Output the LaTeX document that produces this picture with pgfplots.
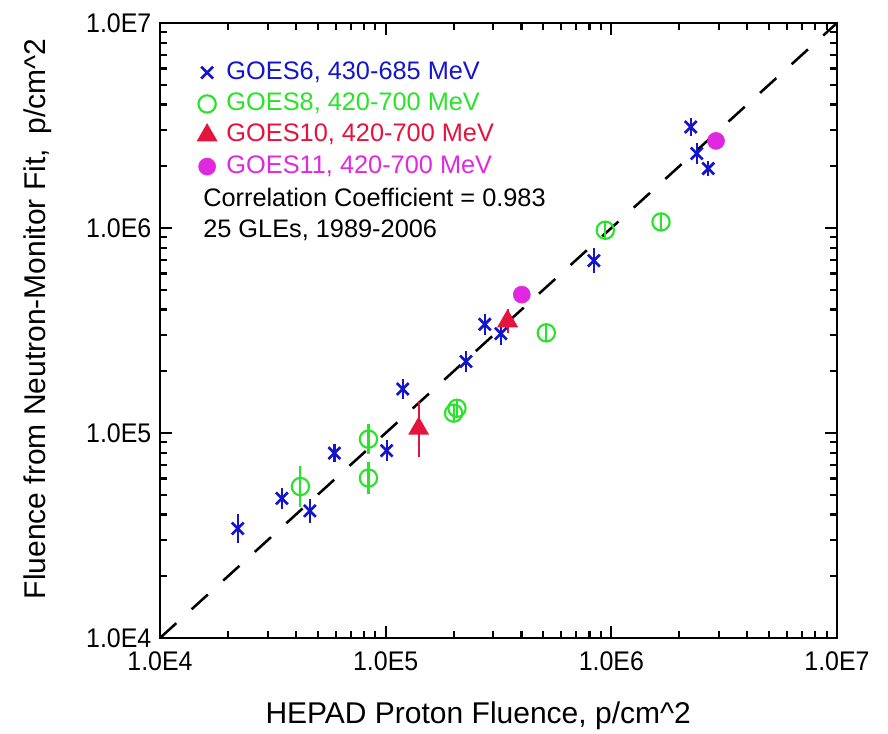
\documentclass[border=0pt]{standalone}
\usepackage{fontspec}
\setmainfont{Liberation Sans}
\usepackage{graphicx}
\usepackage{pgfplots}
\usepackage{pgfplotstable}
\pgfplotsset{compat=1.18}
\definecolor{gblue}{RGB}{20,20,205}
\definecolor{ggreen}{RGB}{40,228,40}
\definecolor{gred}{RGB}{228,20,60}
\definecolor{gmag}{RGB}{225,40,225}
\newcommand{\st}[1]{\scalebox{1}[1.08]{#1}}

\pgfplotstableread{
x y ep em
2.21e4 3.42e4 0.178 0.151
3.47e4 4.80e4 0.122 0.109
4.61e4 4.17e4 0.148 0.129
5.93e4 7.98e4 0.109 0.098
1.01e5 8.20e4 0.122 0.109
1.19e5 1.64e5 0.122 0.109
2.27e5 2.23e5 0.122 0.109
2.75e5 3.39e5 0.122 0.109
3.24e5 3.05e5 0.135 0.119
8.37e5 6.93e5 0.148 0.129
2.25e6 3.11e6 0.109 0.098
2.39e6 2.31e6 0.122 0.109
2.69e6 1.95e6 0.084 0.077
}\goessix

\pgfplotstableread{
x y ep em
4.19e4 5.48e4 0.259 0.206
8.39e4 9.33e4 0.183 0.155
8.39e4 6.03e4 0.194 0.162
2.00e5 1.25e5 0.096 0.088
2.07e5 1.32e5 0.096 0.088
5.15e5 3.08e5 0.096 0.088
9.40e5 9.75e5 0.109 0.098
1.66e6 1.07e6 0.096 0.088
}\goeseight

\pgfplotstableread{
x y ep em
1.40e5 1.05e5 0.349 0.276
3.47e5 3.51e5 0.143 0.125
}\goesten

\pgfplotstableread{
x y
4.01e5 4.73e5
2.91e6 2.66e6
}\goeseleven

\begin{document}
\begin{tikzpicture}
\useasboundingbox (-120pt,-72pt) rectangle (546pt,478.5pt);
\begin{axis}[
  at={(0,0)}, anchor=south west,
  scale only axis, width=507.75pt, height=461.25pt,
  xmode=log, ymode=log,
  xmin=1e4, xmax=1e7, ymin=1e4, ymax=1e7,
  xtick={1e4,1e5,1e6,1e7}, ytick={1e4,1e5,1e6,1e7},
  xticklabels={\st{1.0E4},\st{1.0E5},\st{1.0E6},\st{1.0E7}},
  yticklabels={\st{1.0E4},\st{1.0E5},\st{1.0E6},\st{1.0E7}},
  axis line style={line width=2.2pt},
  major tick length=9pt, minor tick length=5pt,
  every tick/.style={black, line width=1.6pt},
  tick align=inside,
  ticklabel style={font=\fontsize{18.7}{22}\selectfont},
  xticklabel style={yshift=-7pt},
  yticklabel style={xshift=-3pt},
  label style={font=\fontsize{22.5}{26}\selectfont},
  xlabel={HEPAD Proton Fluence, p/cm\textasciicircum 2},
  ylabel={Fluence from Neutron-Monitor Fit,\enspace p/cm\textasciicircum 2},
  xlabel style={at={(axis description cs:0.47,-0.1268)}, anchor=center},
  ylabel style={at={(axis description cs:-0.1802,0.519)}, anchor=center},
  legend cell align=left,
  legend style={at={(axis description cs:0.0564,0.9436)}, anchor=north west,
    draw=none, fill=none, inner sep=0pt, row sep=1.5pt,
    font=\fontsize{19}{22}\selectfont,
    nodes={inner sep=2pt, text height=14pt, text depth=4pt},
    /tikz/every odd column/.append style={column sep=6pt}},
  error bars/error bar style={line width=1.6pt},
]
\addplot[black, line width=1.9pt, dash pattern=on 16.5pt off 15.5pt, forget plot]
  coordinates {(1e4,1e4) (1e7,1e7)};
\addplot[only marks, gblue, mark=x, mark size=6.3pt, line width=2pt,
  error bars/.cd, y dir=both, y explicit relative, error mark=none]
  table[x=x, y=y, y error plus=ep, y error minus=em]{\goessix};
\addlegendentry{\textcolor{gblue}{GOES6, 430-685 MeV}}
\addplot[only marks, ggreen, mark=o, mark size=6.5pt, line width=1.6pt,
  error bars/.cd, y dir=both, y explicit relative, error mark=none]
  table[x=x, y=y, y error plus=ep, y error minus=em]{\goeseight};
\addlegendentry{\textcolor{ggreen}{GOES8, 420-700 MeV}}
\addplot[only marks, gred, mark=triangle*, mark size=7.5pt, line width=1.6pt,
  error bars/.cd, y dir=both, y explicit relative, error mark=none]
  table[x=x, y=y, y error plus=ep, y error minus=em]{\goesten};
\addlegendentry{\textcolor{gred}{GOES10, 420-700 MeV}}
\addplot[only marks, gmag, mark=*, mark size=6.4pt]
  table[x=x, y=y]{\goeseleven};
\addlegendentry{\textcolor{gmag}{GOES11, 420-700 MeV}}
\node[anchor=base west, font=\fontsize{19}{22}\selectfont, inner sep=0pt] at (axis description cs:0.0635,0.7024) {Correlation Coefficient = 0.983};
\node[anchor=base west, font=\fontsize{19}{22}\selectfont, inner sep=0pt] at (axis description cs:0.0635,0.652) {25 GLEs, 1989-2006};
\end{axis}
\end{tikzpicture}
\end{document}
